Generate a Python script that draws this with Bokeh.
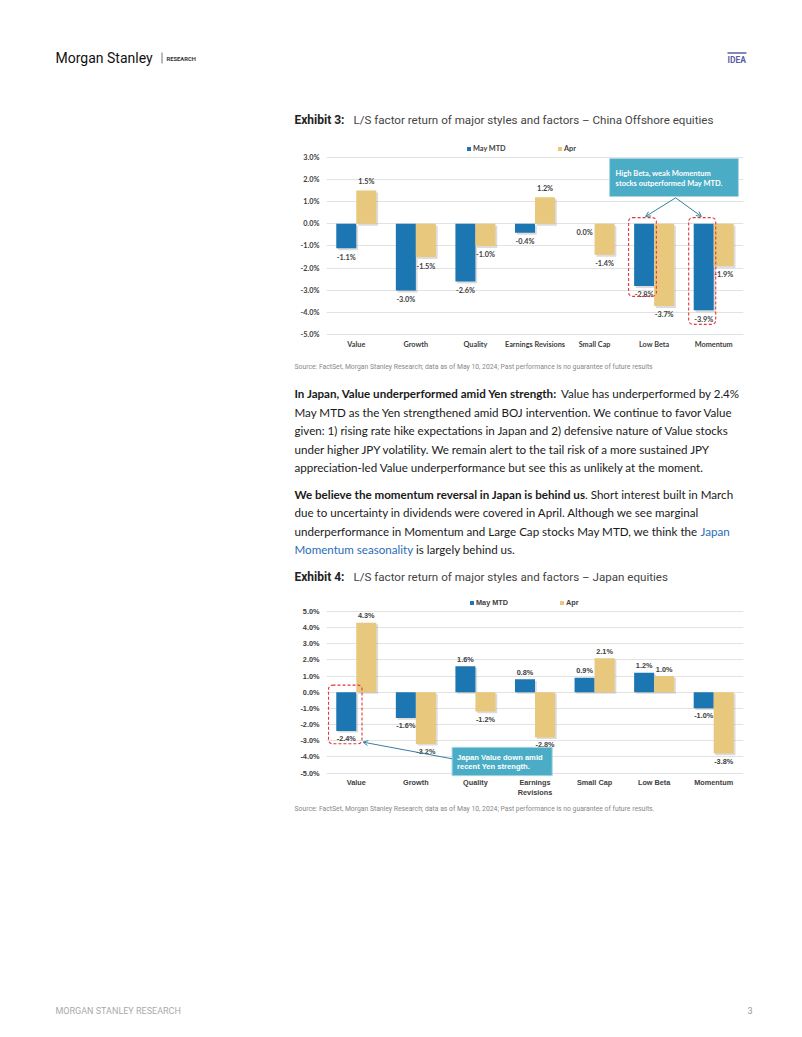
from bokeh.plotting import figure
from bokeh.models import (Range1d, FactorRange, FixedTicker, PrintfTickFormatter, Legend, LegendItem,
                          BoxAnnotation, Arrow, OpenHead, ColumnDataSource)
from bokeh.transform import dodge
from bokeh.core.properties import value
from bokeh.embed import file_html
from bokeh.resources import INLINE

# ---------------- data ----------------
categories = ["Value", "Growth", "Quality", "Earnings Revisions", "Small Cap", "Low Beta", "Momentum"]
cn_may_mtd = [-1.1, -3.0, -2.6, -0.4, 0.0, -2.8, -3.9]
cn_apr = [1.5, -1.5, -1.0, 1.2, -1.4, -3.7, -1.9]
jp_categories = ["Value", "Growth", "Quality", "Earnings\nRevisions", "Small Cap", "Low Beta", "Momentum"]
jp_may_mtd = [-2.4, -1.6, 1.6, 0.8, 0.9, 1.2, -1.0]
jp_apr = [4.3, -3.2, -1.2, -2.8, 2.1, 1.0, -3.8]
cn_yticks = [-5, -4, -3, -2, -1, 0, 1, 2, 3]
jp_yticks = [-5, -4, -3, -2, -1, 0, 1, 2, 3, 4, 5]
series_names = ["May MTD", "Apr"]

BLUE = "#1b76b1"
GOLD = "#e8c87d"
TEAL = "#4bacc6"
RED = "#e4353b"
W = 802
X0, X1 = 0, 802
BODY = "Lato"


def text_fig(y0, y1):
    p = figure(width=W, height=y1 - y0, x_range=Range1d(X0, X1), y_range=Range1d(y1, y0),
               output_backend="svg", toolbar_location=None, min_border=0,
               x_axis_type=None, y_axis_type=None)
    p.grid.visible = False
    p.outline_line_color = None
    return p


def txt(p, x, y, s, size, font="Roboto", style="normal", color="#1a1a1a", align="left"):
    p.text(x=[x], y=[y], text=[s], text_font=value(font), text_font_size=f"{size}px",
           text_font_style=style, text_color=color, text_align=align, text_baseline="middle")


def make_chart(cats, may, apr, yticks, height, ylo, yhi, font, fsize, bottom_border,
               shadow_d, off_pos, off_neg, legend_pos, xstandoff):
    p = figure(width=W, height=height, x_range=FactorRange(factors=cats, range_padding=0),
               y_range=Range1d(ylo, yhi), output_backend="svg", toolbar_location=None,
               min_border_left=326, min_border_right=59, min_border_top=0,
               min_border_bottom=bottom_border)
    p.outline_line_color = None
    p.xgrid.visible = False
    p.ygrid.ticker = FixedTicker(ticks=yticks)
    p.ygrid.grid_line_color = "#e2e2e2"
    p.yaxis.ticker = FixedTicker(ticks=yticks)
    p.yaxis.formatter = PrintfTickFormatter(format="%.1f%%")
    for ax in (p.xaxis[0], p.yaxis[0]):
        ax.axis_line_color = None
        ax.major_tick_line_color = None
        ax.minor_tick_line_color = None
        ax.major_tick_out = 0
        ax.major_tick_in = 0
        ax.minor_tick_out = 0
        ax.major_label_text_font = font
        ax.major_label_text_font_size = f"{fsize}px"
        ax.major_label_text_font_style = "bold"
        ax.major_label_text_color = "#404040"
    p.yaxis.major_label_standoff = 7
    p.xaxis.major_label_standoff = xstandoff

    src = ColumnDataSource(dict(
        cat=cats, may=may, apr=apr,
        may_top=[max(v, 0) for v in may], may_bot=[min(v, 0) for v in may],
        apr_top=[max(v, 0) for v in apr], apr_bot=[min(v, 0) for v in apr],
        may_st=[max(v, 0) - shadow_d for v in may], may_sb=[min(v, 0) - shadow_d for v in may],
        apr_st=[max(v, 0) - shadow_d for v in apr], apr_sb=[min(v, 0) - shadow_d for v in apr],
        may_lab=[f"{v:.1f}%" for v in may], apr_lab=[f"{v:.1f}%" for v in apr],
        may_off=[off_pos if v > 0 else off_neg for v in may],
        apr_off=[off_pos if v > 0 else off_neg for v in apr],
    ))
    bw = 0.336
    # soft shadows
    p.vbar(x=dodge("cat", -bw / 2 + 0.03, range=p.x_range), top="may_st", bottom="may_sb", width=bw,
           source=src, fill_color="#9a9a9a", fill_alpha=0.35, line_color=None)
    p.vbar(x=dodge("cat", bw / 2 + 0.03, range=p.x_range), top="apr_st", bottom="apr_sb", width=bw,
           source=src, fill_color="#9a9a9a", fill_alpha=0.35, line_color=None)
    r_may = p.vbar(x=dodge("cat", -bw / 2, range=p.x_range), top="may_top", bottom="may_bot", width=bw,
                   source=src, fill_color=BLUE, line_color=None)
    r_apr = p.vbar(x=dodge("cat", bw / 2, range=p.x_range), top="apr_top", bottom="apr_bot", width=bw,
                   source=src, fill_color=GOLD, line_color=None)
    for key, dx in (("may", -bw / 2), ("apr", bw / 2)):
        p.text(x=dodge("cat", dx, range=p.x_range), y=key, text=key + "_lab", y_offset=key + "_off",
               source=src, text_font=value(font), text_font_size=f"{fsize}px", text_font_style="bold",
               text_color="#404040", text_align="center", text_baseline="middle")
    for r, name, (lx, ly) in zip((r_may, r_apr), series_names, legend_pos):
        lg = Legend(items=[LegendItem(label=name, renderers=[r])], location=(lx, ly),
                    orientation="horizontal", glyph_width=5, glyph_height=5, label_height=7,
                    label_standoff=2, padding=0, margin=0, border_line_alpha=0,
                    background_fill_alpha=0, label_text_font=font,
                    label_text_font_size=f"{fsize}px", label_text_font_style="bold",
                    label_text_color="#404040")
        p.add_layout(lg)
    return p


# ---------------- top text ----------------
top = text_fig(0, 140)
txt(top, 55, 57, "Morgan Stanley", 14, "Roboto", color="#111111")
top.segment(x0=[161.5], y0=[52], x1=[161.5], y1=[63], line_color="#777777", line_width=1)
txt(top, 166, 58, "RESEARCH", 5.8, "Roboto", "bold", "#333333")
txt(top, 727, 59.5, "IDEA", 8.5, "Roboto", "bold", "#5b5ea6")
top.segment(x0=[727], y0=[52.5], x1=[746], y1=[52.5], line_color="#5b5ea6", line_width=1.5)
txt(top, 294, 119.5, "Exhibit 3:", 12, "Roboto", "bold", "#222222")
txt(top, 353, 119.5, "L/S factor return of major styles and factors \u2013 China Offshore equities", 11.6,
    "Roboto", color="#444444")

# ---------------- chart 1 ----------------
c1 = make_chart(categories, cn_may_mtd, cn_apr, cn_yticks, 215, -5.032, 3.752, "Lato", 7.3, 20,
                0.09, -8.5, 9, [(140, 182), (231, 182)], 4)
c1.quad(left=[4.752], right=[6.915], bottom=[1.23], top=[2.94], fill_color=TEAL, line_color="#a9d6e2",
        line_width=1)
c1.text(x=[4.853, 4.853], y=[2.25, 1.80], text=["High Beta, weak Momentum", "stocks outperformed May MTD."],
        text_font=value("Lato"), text_font_size="7.5px", text_font_style="bold", text_color="white",
        text_baseline="middle")
for (l, r, t, b) in ((5.071, 5.537, 0.28, cn_may_mtd[5] - 0.47), (6.08, 6.534, 0.28, cn_may_mtd[6] - 0.63)):
    c1.add_layout(BoxAnnotation(left=l, right=r, top=t, bottom=b, fill_alpha=0, line_color=RED,
                                line_alpha=1, line_width=1.1, line_dash="3 2", border_radius=4))
for xe in (5.357, 6.293):
    c1.add_layout(Arrow(x_start=5.861, y_start=1.17, x_end=xe, y_end=0.33, line_color="#31849b", line_width=1,
                        end=OpenHead(size=5, line_color="#31849b", line_width=1)))

# ---------------- middle text ----------------
mid = text_fig(355, 595)
txt(mid, 294, 366.5, "Source: FactSet, Morgan Stanley Research; data as of May 10, 2024; Past performance is no "
    "guarantee of future results", 6.8, "Roboto", color="#888888")
fs = 11.6
ys1 = [393, 411.5, 430, 448.5, 467]
txt(mid, 294, ys1[0], "In Japan, Value underperformed amid Yen strength:", fs, BODY, "bold")
txt(mid, 560.5, ys1[0], "Value has underperformed by 2.4%", fs, BODY)
txt(mid, 294, ys1[1], "May MTD as the Yen strengthened amid BOJ intervention. We continue to favor Value", fs, BODY)
txt(mid, 294, ys1[2], "given: 1) rising rate hike expectations in Japan and 2) defensive nature of Value stocks", fs, BODY)
txt(mid, 294, ys1[3], "under higher JPY volatility. We remain alert to the tail risk of a more sustained JPY", fs, BODY)
txt(mid, 294, ys1[4], "appreciation-led Value underperformance but see this as unlikely at the moment.", fs, BODY)
ys2 = [493.5, 512, 530.5, 549]
txt(mid, 294, ys2[0], "We believe the momentum reversal in Japan is behind us", fs, BODY, "bold")
txt(mid, 584.5, ys2[0], ". Short interest built in March", fs, BODY)
txt(mid, 294, ys2[1], "due to uncertainty in dividends were covered in April. Although we see marginal", fs, BODY)
txt(mid, 294, ys2[2], "underperformance in Momentum and Large Cap stocks May MTD, we think the", fs, BODY)
txt(mid, 700, ys2[2], "Japan", fs, BODY, color="#2b6cb5")
txt(mid, 294, ys2[3], "Momentum seasonality", fs, BODY, color="#2b6cb5")
txt(mid, 415.5, ys2[3], "is largely behind us.", fs, BODY)
txt(mid, 294, 576.5, "Exhibit 4:", 12, "Roboto", "bold", "#222222")
txt(mid, 353, 576.5, "L/S factor return of major styles and factors \u2013 Japan equities", 11.6, "Roboto",
    color="#444444")

# ---------------- chart 2 ----------------
c2 = make_chart(jp_categories, jp_may_mtd, jp_apr, jp_yticks, 205, -5.216, 5.983, "Liberation Sans", 7.3, 21,
                0.1, -7, 7.5, [(143, 169), (233, 169)], 1)
c2.quad(left=[2.108], right=[3.789], bottom=[-5.17], top=[-3.41], fill_color=TEAL, line_color="#a9d6e2",
        line_width=1)
c2.text(x=[2.19, 2.19], y=[-4.06, -4.61], text=["Japan Value down amid", "recent Yen strength."],
        text_font=value("Liberation Sans"), text_font_size="7.6px", text_font_style="bold", text_color="white",
        text_baseline="middle")
c2.add_layout(BoxAnnotation(left=0.034, right=0.596, top=0.44, bottom=jp_may_mtd[0] - 0.79, fill_alpha=0,
                            line_color=RED, line_alpha=1, line_width=1.1, line_dash="3 2", border_radius=4))
c2.add_layout(Arrow(x_start=2.108, y_start=-4.12, x_end=0.613, y_end=-3.09, line_color="#3a7ca5", line_width=1,
                    end=OpenHead(size=5, line_color="#3a7ca5", line_width=1)))

# ---------------- bottom text ----------------
bot = text_fig(800, 1037)
txt(bot, 294, 808, "Source: FactSet, Morgan Stanley Research; data as of May 10, 2024; Past performance is no "
    "guarantee of future results.", 6.8, "Roboto", color="#888888")
txt(bot, 55, 1010, "MORGAN STANLEY RESEARCH", 9, "Roboto", color="#aaaaaa")
txt(bot, 747, 1010, "3", 9, "Roboto", color="#999999")

open("out.html", "w").write(file_html([top, c1, mid, c2, bot], INLINE))
